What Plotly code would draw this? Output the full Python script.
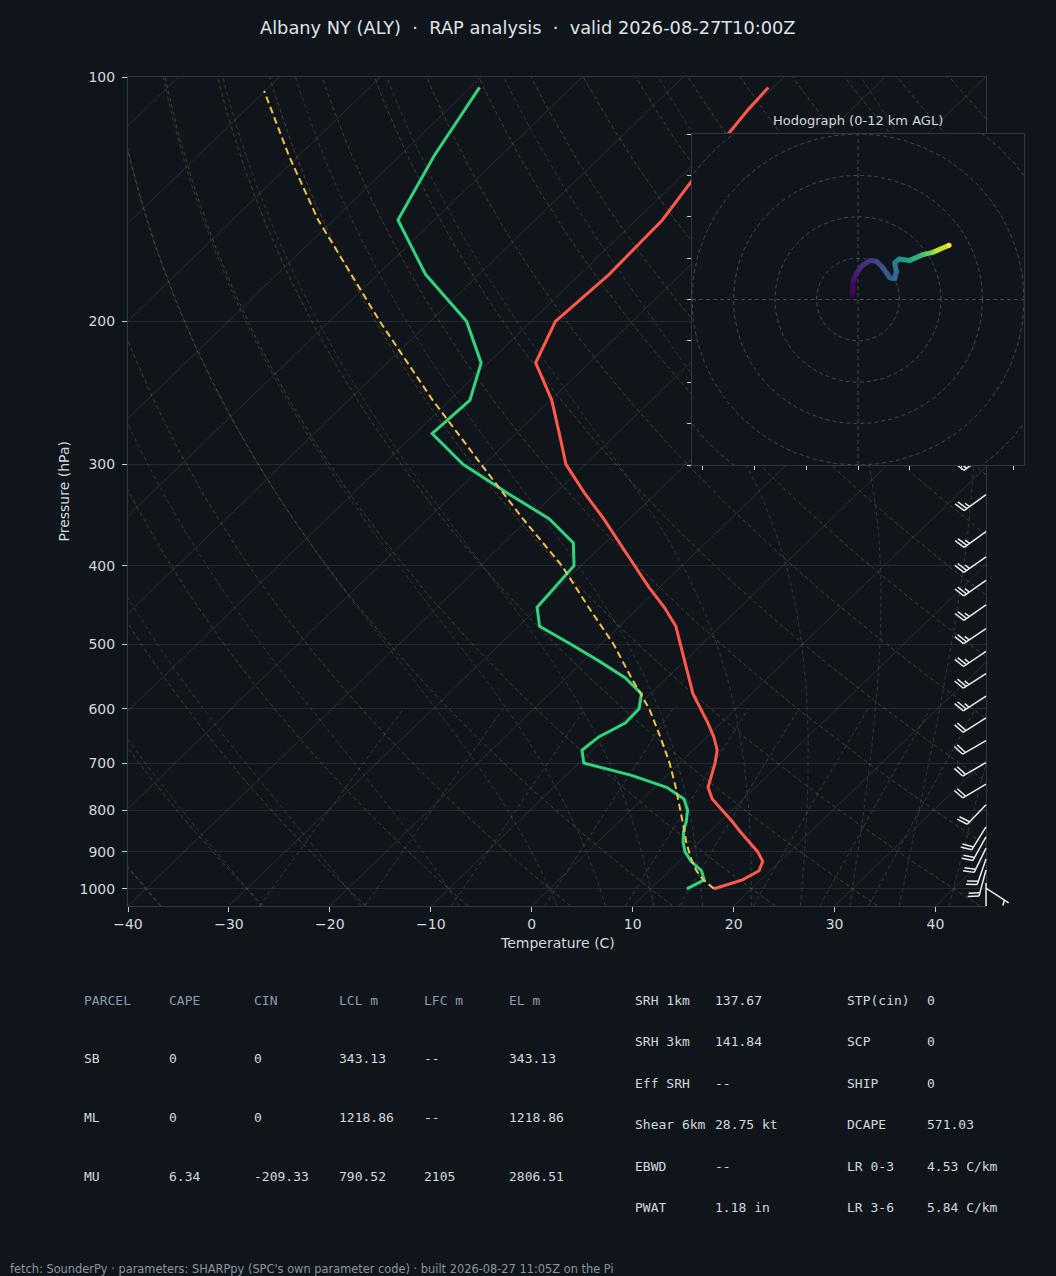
import numpy as np
import plotly.graph_objects as go
from plotly.colors import sample_colorscale

# ---------------- data ----------------
TITLE = "Albany NY (ALY)  \u00b7  RAP analysis  \u00b7  valid 2026-08-27T10:00Z"
FOOTER = "fetch: SounderPy \u00b7 parameters: SHARPpy (SPC's own parameter code) \u00b7 built 2026-08-27 11:05Z on the Pi"

pressure_hpa = [1000, 975, 950, 925, 900, 875, 850, 825, 800, 775, 750, 725, 700, 675,
                650, 625, 600, 575, 550, 525, 500, 475, 450, 425, 400, 375, 350, 325,
                300, 275, 250, 225, 200, 175, 150, 125, 110, 103]
temperature_c = [16.3, 18.2, 18.9, 18.3, 16.8, 14.9, 13.0, 11.1, 9.0, 6.9, 5.3, 4.4, 3.5, 2.4,
                 0.7, -1.3, -3.5, -5.8, -7.8, -9.9, -12.1, -14.4, -17.5, -21.1, -24.7, -28.5,
                 -32.6, -37.2, -41.9, -45.7, -49.9, -55.3, -57.6, -57.1, -57.4, -59.2, -60.2, -60.5]
dewpoint_c = [13.6, 14.4, 13.2, 11.2, 9.6, 8.4, 7.4, 6.6, 5.6, 4.1, 1.2, -3.5, -9.5, -11.0,
              -10.7, -9.5, -9.6, -10.9, -14.1, -18.3, -22.9, -27.9, -30.1, -30.4, -30.7, -33.1,
              -38.0, -44.9, -52.1, -58.3, -58.0, -60.7, -66.4, -75.3, -83.6, -86.6, -88.3, -89.1]

parcel_p_hpa = [1000, 975, 950, 925, 900, 875, 850, 800, 750, 700, 650, 600, 550, 500,
                450, 400, 350, 300, 250, 200, 150, 125, 104]
parcel_t_c = [16.3, 14.3, 12.7, 11.3, 10.0, 8.7, 7.5, 4.9, 2.1, -1.0, -4.6, -8.6, -13.5, -18.7,
              -25.0, -31.9, -40.6, -50.3, -61.7, -75.0, -91.5, -101.0, -110.1]

barb_p_hpa = [998, 984, 948, 919, 891, 863, 839, 788, 743, 699, 657, 616, 579, 543,
              510, 478, 447, 417, 390, 363, 327, 292, 260, 230, 200, 175, 150]
barb_dir_deg = [123, 180, 195, 199, 206, 209, 212, 224, 239, 240, 240, 238, 237, 237,
                236, 236, 235, 235, 235, 234, 234, 235, 238, 238, 239, 239, 239]
barb_speed_kt = [5, 10, 20, 20, 20, 20, 20, 20, 20, 20, 20, 20, 25, 25,
                 25, 25, 25, 25, 25, 25, 25, 25, 30, 35, 40, 45, 50]

hodo_u_kt = [-2.7, -2.4, -0.8, 2.1, 6.0, 8.9, 12.0, 15.3, 17.7, 18.5, 17.7, 19.9, 24.9, 31.3, 36.1, 43.9]
hodo_v_kt = [1.9, 8.8, 12.5, 16.5, 18.9, 18.5, 15.3, 10.5, 10.0, 13.6, 17.7, 19.6, 18.9, 21.7, 22.8, 26.2]
hodo_h_km = [0.0, 0.5, 1.0, 1.5, 2.0, 2.5, 3.0, 3.5, 4.0, 4.5, 5.0, 6.0, 7.0, 8.5, 10.0, 12.0]

pressure_ticks = [100, 200, 300, 400, 500, 600, 700, 800, 900, 1000]
temp_ticks = [-40, -30, -20, -10, 0, 10, 20, 30, 40]
hodo_xticks = [-75, -50, -25, 0, 25, 50, 75]
hodo_yticks = [-80, -60, -40, -20, 0, 20, 40, 60, 80]
hodo_rings = [20, 40, 60, 80, 100]

table_headers = ["PARCEL", "CAPE", "CIN", "LCL m", "LFC m", "EL m"]
parcel_rows = ["SB", "ML", "MU"]
cape = [0, 0, 6.34]
cin = [0, 0, -209.33]
lcl_m = [343.13, 1218.86, 790.52]
lfc_m = [None, None, 2105]
el_m = [343.13, 1218.86, 2806.51]

kin_labels = ["SRH 1km", "SRH 3km", "Eff SRH", "Shear 6km", "EBWD", "PWAT"]
kin_values = [137.67, 141.84, None, 28.75, None, 1.18]
kin_units = ["", "", "", " kt", "", " in"]
thermo_labels = ["STP(cin)", "SCP", "SHIP", "DCAPE", "LR 0-3", "LR 3-6"]
thermo_values = [0, 0, 0, 571.03, 4.53, 5.84]
thermo_units = ["", "", "", "", " C/km", " C/km"]

# ---------------- style / layout constants ----------------
W, H = 1056, 1276
MAIN_L, MAIN_R, MAIN_T, MAIN_B = 128, 986, 77, 906
HODO_L, HODO_R, HODO_T, HODO_B = 692, 1024, 134, 465
BG = "#10151b"
TEXT = "#d3d8de"
FRAME = "#2c3846"
GRID = "#222b35"
TICK = "#c9cfd6"
HEADER = "#8b9bb0"
T_COLOR = "#ff5848"
TD_COLOR = "#30d47a"
PARCEL_COLOR = "#f2c14e"

XMIN, XMAX = -40.0, 45.0
P_BOT, P_TOP = 1050.0, 100.0
LOGP0, LOGP1 = np.log10(P_BOT), np.log10(P_TOP)
SKEW = XMAX - XMIN          # 45-degree skew in axes units
PX_PER_C = (MAIN_R - MAIN_L) / (XMAX - XMIN)
DEC_PER_PX = (LOGP0 - LOGP1) / (MAIN_B - MAIN_T)
HODO_RANGE = 80

RD, CP, LV, EPS = 287.04749, 1004.6662, 2.50084e6, 0.621957


def skew_x(t, p):
    p = np.asarray(p, dtype=float)
    frac = (LOGP0 - np.log10(p)) / (LOGP0 - LOGP1)
    return np.asarray(t, dtype=float) + SKEW * frac


def joined(xs_list, ys_list):
    X, Y = [], []
    for xs, ys in zip(xs_list, ys_list):
        X += list(xs) + [None]
        Y += list(ys) + [None]
    return X, Y


def sat_vp(tc):
    return 6.112 * np.exp(17.67 * tc / (tc + 243.5))


def moist_rate(tk, lnp):
    p = np.exp(lnp)
    e = sat_vp(tk - 273.15)
    rs = EPS * e / (p - e)
    return (RD * tk + LV * rs) / (CP + LV * LV * rs * EPS / (RD * tk * tk))


def moist_path(t0k, p_from, p_to, n):
    lnps = np.linspace(np.log(p_from), np.log(p_to), n)
    ts = [t0k]
    for i in range(n - 1):
        h = lnps[i + 1] - lnps[i]
        x, t = lnps[i], ts[-1]
        k1 = moist_rate(t, x)
        k2 = moist_rate(t + h / 2 * k1, x + h / 2)
        k3 = moist_rate(t + h / 2 * k2, x + h / 2)
        k4 = moist_rate(t + h * k3, x + h)
        ts.append(t + h / 6 * (k1 + 2 * k2 + 2 * k3 + k4))
    return np.exp(lnps), np.array(ts)


fig = go.Figure()

# ---- background thermodynamic reference lines ----
iso_t = list(range(-120, 50, 10))
iso_x, iso_y = joined([skew_x([t, t], [P_BOT, P_TOP]) for t in iso_t], [[P_BOT, P_TOP]] * len(iso_t))
fig.add_trace(go.Scatter(x=iso_x, y=iso_y, mode="lines", hoverinfo="skip",
                         line=dict(color="rgba(150,160,172,0.18)", width=1)))

p_bg = np.geomspace(P_BOT, P_TOP, 80)
dry_x, dry_y = [], []
for t0 in np.arange(-40, 200, 10):
    tt = (t0 + 273.15) * (p_bg / 1000.0) ** (RD / CP) - 273.15
    dry_x.append(skew_x(tt, p_bg)); dry_y.append(p_bg)
dx_, dy_ = joined(dry_x, dry_y)
fig.add_trace(go.Scatter(x=dx_, y=dy_, mode="lines", hoverinfo="skip",
                         line=dict(color="rgba(185,140,80,0.34)", width=1, dash="4px,3px")))

moist_x, moist_y = [], []
for t0 in np.concatenate([np.arange(-40, 0, 10), np.arange(0, 61, 5)]):
    pu, tu = moist_path(t0 + 273.15, 1000.0, P_TOP, 90)
    pd_, td_ = moist_path(t0 + 273.15, 1000.0, P_BOT, 5)
    pp = np.concatenate([pd_[::-1], pu[1:]])
    tt = np.concatenate([td_[::-1], tu[1:]]) - 273.15
    moist_x.append(skew_x(tt, pp)); moist_y.append(pp)
mx_, my_ = joined(moist_x, moist_y)
fig.add_trace(go.Scatter(x=mx_, y=my_, mode="lines", hoverinfo="skip",
                         line=dict(color="rgba(95,135,160,0.32)", width=1, dash="4px,3px")))

p_mix = np.linspace(P_BOT, 600, 30)
mix_x, mix_y = [], []
for w in [0.0004, 0.001, 0.002, 0.004, 0.007, 0.01, 0.016, 0.024, 0.032]:
    e = w * p_mix / (EPS + w)
    lg = np.log(e / 6.112)
    td = 243.5 * lg / (17.67 - lg)
    mix_x.append(skew_x(td, p_mix)); mix_y.append(p_mix)
wx_, wy_ = joined(mix_x, mix_y)
fig.add_trace(go.Scatter(x=wx_, y=wy_, mode="lines", hoverinfo="skip",
                         line=dict(color="rgba(95,140,150,0.34)", width=1, dash="4px,3px")))

# ---- sounding profiles ----
fig.add_trace(go.Scatter(x=skew_x(temperature_c, pressure_hpa), y=pressure_hpa, mode="lines",
                         line=dict(color=T_COLOR, width=3), name="T"))
fig.add_trace(go.Scatter(x=skew_x(dewpoint_c, pressure_hpa), y=pressure_hpa, mode="lines",
                         line=dict(color=TD_COLOR, width=3), name="Td"))
fig.add_trace(go.Scatter(x=skew_x(parcel_t_c, parcel_p_hpa), y=parcel_p_hpa, mode="lines",
                         line=dict(color=PARCEL_COLOR, width=2, dash="7px,4px"), name="parcel"))

# ---- wind barbs (matplotlib-style geometry, in pixels, mapped to the axes) ----
L = 27.0
spacing, fh, fw = 0.125 * L, 0.4 * L, 0.25 * L
bx, by = [], []
for p, wd, sp in zip(barb_p_hpa, barb_dir_deg, barb_speed_kt):
    u = -sp * np.sin(np.radians(wd)); v = -sp * np.cos(np.radians(wd))
    phi = np.arctan2(v, u)
    d = np.array([-np.cos(phi), -np.sin(phi)])
    n = np.array([-np.sin(phi), np.cos(phi)])
    r = int(5 * round(sp / 5.0))
    nflags, nbarbs, half = r // 50, (r % 50) // 10, (r % 10) >= 5
    polys = [[np.zeros(2), L * d]]
    off = L
    for i in range(nflags):
        if off != L:
            off += spacing / 2
        polys.append([off * d, fh * n + (off - fw / 2) * d, (off - fw) * d])
        off -= fw + spacing
    for i in range(nbarbs):
        polys.append([off * d, fh * n + (off + fw / 2) * d])
        off -= spacing
    if half:
        if off == L:
            off -= 1.5 * spacing
        polys.append([off * d, fh / 2 * n + (off + fw / 4) * d])
    for poly in polys:
        for pt in poly:
            bx.append(XMAX + pt[0] / PX_PER_C)
            by.append(10 ** (np.log10(p) - pt[1] * DEC_PER_PX))
        bx.append(None); by.append(None)
fig.add_trace(go.Scatter(x=bx, y=by, mode="lines", xaxis="x2", yaxis="y2", hoverinfo="skip",
                         line=dict(color="#e8ecf0", width=1.5)))

# ---- hodograph inset ----
R = HODO_RANGE
fig.add_trace(go.Scatter(x=[-R, R, R, -R, -R], y=[-R, -R, R, R, -R], fill="toself",
                         fillcolor=BG, mode="lines", line=dict(width=0, color=BG),
                         xaxis="x3", yaxis="y3", hoverinfo="skip"))
th = np.linspace(0, 2 * np.pi, 241)
ring_x, ring_y = joined([rr * np.cos(th) for rr in hodo_rings], [rr * np.sin(th) for rr in hodo_rings])
fig.add_trace(go.Scatter(x=ring_x, y=ring_y, mode="lines", xaxis="x3", yaxis="y3", hoverinfo="skip",
                         line=dict(color="rgba(120,135,152,0.45)", width=1, dash="4px,3px")))
fig.add_trace(go.Scatter(x=[-R, R, None, 0, 0], y=[0, 0, None, -R, R], mode="lines",
                         xaxis="x3", yaxis="y3", hoverinfo="skip",
                         line=dict(color="rgba(120,135,152,0.45)", width=1, dash="4px,3px")))
hmax = max(hodo_h_km)
seg_cols = sample_colorscale("Viridis", [h / hmax for h in hodo_h_km])
for i in range(len(hodo_u_kt) - 1):
    cmid = sample_colorscale("Viridis", [(hodo_h_km[i] + hodo_h_km[i + 1]) / 2 / hmax])[0]
    fig.add_trace(go.Scatter(x=hodo_u_kt[i:i + 2], y=hodo_v_kt[i:i + 2], mode="lines",
                             xaxis="x3", yaxis="y3", hoverinfo="skip",
                             line=dict(color=cmid, width=5)))
fig.add_trace(go.Scatter(x=hodo_u_kt, y=hodo_v_kt, mode="markers", xaxis="x3", yaxis="y3",
                         hoverinfo="skip", marker=dict(color=seg_cols, size=5, line=dict(width=0))))

# ---------------- annotations ----------------
def px(x):
    return x / W


def py(y):
    return 1 - y / H


def fmt(v, unit=""):
    return "--" if v is None else f"{v:g}{unit}"


ann = []
ann.append(dict(text=TITLE, x=0.5, y=py(27), font=dict(size=17.8, color="#dfe3e8")))
ann.append(dict(text="Temperature (C)", x=px((MAIN_L + MAIN_R) / 2), y=py(943), font=dict(size=14, color=TEXT)))
ann.append(dict(text="Pressure (hPa)", x=px(63), y=py((MAIN_T + MAIN_B) / 2), textangle=-90,
                font=dict(size=14, color=TEXT)))
ann.append(dict(text="Hodograph (0-12 km AGL)", x=px((HODO_L + HODO_R) / 2), y=py(120),
                font=dict(size=13, color=TEXT)))
ann.append(dict(text=FOOTER, x=px(8), y=py(1269), xanchor="left", font=dict(size=11.4, color="#8a949f")))

MONO = "DejaVu Sans Mono"
PAD = 2  # annotation inner padding compensation
col_x = [84, 169, 254, 339, 424, 509]
for cx, htxt in zip(col_x, table_headers):
    ann.append(dict(text=htxt, x=px(cx - PAD), y=py(1000), xanchor="left",
                    font=dict(family=MONO, size=13, color=HEADER)))
row_y = [1058, 1117, 1176]
for ry, name, a, b, c, d_, e in zip(row_y, parcel_rows, cape, cin, lcl_m, lfc_m, el_m):
    for cx, val in zip(col_x, [name, fmt(a), fmt(b), fmt(c), fmt(d_), fmt(e)]):
        ann.append(dict(text=val, x=px(cx - PAD), y=py(ry), xanchor="left",
                        font=dict(family=MONO, size=13, color=TEXT)))
rt_y = [1000, 1041.5, 1083, 1124.5, 1166, 1207.5]
for ry, l1, v1, u1, l2, v2, u2 in zip(rt_y, kin_labels, kin_values, kin_units,
                                      thermo_labels, thermo_values, thermo_units):
    for cx, val in zip([635, 715, 847, 927], [l1, fmt(v1, u1 if v1 is not None else ""), l2, fmt(v2, u2)]):
        ann.append(dict(text=val, x=px(cx - PAD), y=py(ry), xanchor="left",
                        font=dict(family=MONO, size=13, color=TEXT)))
for a in ann:
    a.update(xref="paper", yref="paper", showarrow=False)
    a.setdefault("xanchor", "center")
    a.setdefault("yanchor", "middle")

main_xdom = [MAIN_L / W, MAIN_R / W]
main_ydom = [1 - MAIN_B / H, 1 - MAIN_T / H]
axis_common = dict(showline=True, linecolor=FRAME, linewidth=1, mirror=True, zeroline=False,
                   ticks="outside", ticklen=5, tickwidth=1, tickcolor=TICK, automargin=False)

fig.update_layout(
    width=W, height=H, margin=dict(l=0, r=0, t=0, b=0),
    paper_bgcolor=BG, plot_bgcolor="rgba(0,0,0,0)", showlegend=False,
    font=dict(family="DejaVu Sans", color=TEXT),
    xaxis=dict(domain=main_xdom, range=[XMIN, XMAX], tickvals=temp_ticks, showgrid=False,
               tickfont=dict(size=14, color=TEXT), anchor="y", **axis_common),
    yaxis=dict(domain=main_ydom, type="log", range=[LOGP0, LOGP1], tickvals=pressure_ticks,
               ticktext=[str(v) for v in pressure_ticks], showgrid=True, gridcolor=GRID, gridwidth=1,
               tickfont=dict(size=14, color=TEXT), anchor="x", ticklabelstandoff=4, **axis_common),
    xaxis2=dict(domain=[MAIN_L / W, 1.0], range=[XMIN, XMIN + (W - MAIN_L) / PX_PER_C],
                visible=False, anchor="y2"),
    yaxis2=dict(domain=main_ydom, type="log", range=[LOGP0, LOGP1], visible=False, anchor="x2"),
    xaxis3=dict(domain=[HODO_L / W, HODO_R / W], range=[-R, R], tickvals=hodo_xticks,
                showticklabels=False, showgrid=False, anchor="y3",
                **{**axis_common, "ticklen": 4}),
    yaxis3=dict(domain=[1 - HODO_B / H, 1 - HODO_T / H], range=[-R, R], tickvals=hodo_yticks,
                showticklabels=False, showgrid=False, anchor="x3",
                **{**axis_common, "ticklen": 4}),
    annotations=ann,
)

fig.write_html("out.html", config={"displayModeBar": False},
               post_script="document.body.style.margin='0';document.body.style.background='" + BG + "';")
